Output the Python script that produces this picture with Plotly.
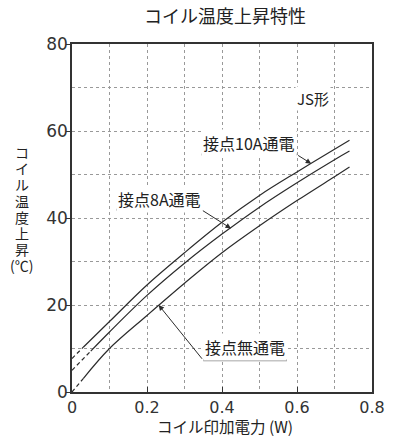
import plotly.graph_objects as go

# coil power (W) and temperature rise (deg C)
power = [0, 0.03, 0.05, 0.1, 0.2, 0.3, 0.4, 0.5, 0.6, 0.7, 0.74]
rise_10a = [7.7, 10.3, None, 16.2, 24.6, 32.0, 39.0, 45.2, 50.6, 55.8, 57.9]
rise_8a = [5.0, None, 9.4, 13.8, 22.2, 29.6, 36.3, 42.5, 48.1, 53.4, 55.4]
rise_none = [0.0, 3.1, None, 10.0, 17.6, 25.0, 32.0, 38.2, 44.0, 49.5, 51.7]

# where each curve turns from dashed to solid
dash_end = {"10A": 0.03, "8A": 0.05, "none": 0.03}

x_ticks = [0, 0.2, 0.4, 0.6, 0.8]
x_tick_text = ["0", "0.2", "0.4", "0.6", "0.8"]
y_ticks = [0, 20, 40, 60, 80]
y_title_chars = ["コ", "イ", "ル", "温", "度", "上", "昇", "(℃)"]

jp_font = "Noto Sans CJK JP"
line_color = "#2b2b2b"
text_color = "#222"

fig = go.Figure()


def add_curve(name, ys, x_break):
    pts = [(x, y) for x, y in zip(power, ys) if y is not None]
    dashed = [p for p in pts if p[0] <= x_break]
    solid = [p for p in pts if p[0] >= x_break]
    fig.add_trace(go.Scatter(x=[p[0] for p in dashed], y=[p[1] for p in dashed],
                             mode="lines", line=dict(color=line_color, width=1.2, dash="4px,3px"),
                             showlegend=False, hoverinfo="skip"))
    fig.add_trace(go.Scatter(x=[p[0] for p in solid], y=[p[1] for p in solid],
                             mode="lines", name=name, line=dict(color=line_color, width=1.2, shape="spline"),
                             showlegend=False))


add_curve("接点10A通電", rise_10a, dash_end["10A"])
add_curve("接点8A通電", rise_8a, dash_end["8A"])
add_curve("接点無通電", rise_none, dash_end["none"])

# labels: text, text position, underline span, leader end, arrow tip
labels = [
    ("接点10A通電", (0.472, 57.3), (0.345, 0.599, 54.6), (0.638, 52.5)),
    ("接点8A通電", (0.234, 44.3), (0.118, 0.345, 41.9), (0.424, 37.6)),
    ("接点無通電", (0.462, 10.4), (0.573, 0.35, 7.3), (0.231, 20.0)),
]

for text, (tx, ty), (u0, u1, uy), (ax_, ay_) in labels:
    fig.add_annotation(x=tx, y=ty, text=text, showarrow=False, bgcolor="white",
                       font=dict(family=jp_font, size=16, color=text_color))
    fig.add_shape(type="line", x0=u0, x1=u1, y0=uy, y1=uy,
                  line=dict(color="#888", width=2))
    fig.add_annotation(x=ax_, y=ay_, ax=u1, ay=uy, axref="x", ayref="y", text="",
                       showarrow=True, arrowhead=2, arrowsize=1.1, arrowwidth=1,
                       arrowcolor=line_color, standoff=0)

fig.add_annotation(x=0.642, y=67.4, text="JS形", showarrow=False, bgcolor="white",
                   font=dict(family=jp_font, size=15, color=text_color))

# vertical y-axis title, one glyph per row
for i, ch in enumerate(y_title_chars):
    fig.add_annotation(xref="paper", yref="paper", x=-0.168, y=0.689 - i * 0.0463,
                       xanchor="center", yanchor="middle", text=ch, showarrow=False,
                       font=dict(family=jp_font, size=14, color=text_color))

fig.add_annotation(xref="paper", yref="paper", x=0.51, y=-0.099, yanchor="middle",
                   text="コイル印加電力 (W)", showarrow=False,
                   font=dict(family=jp_font, size=15.5, color=text_color))

fig.update_layout(
    width=397, height=437,
    margin=dict(l=72, r=20, t=44, b=45),
    plot_bgcolor="white", paper_bgcolor="white",
    title=dict(text="コイル温度上昇特性", x=0.51, xref="paper", y=0.961, yanchor="middle",
               font=dict(family=jp_font, size=18, color=text_color)),
    xaxis=dict(range=[0, 0.8], tickvals=x_ticks, ticktext=x_tick_text,
               ticks="inside", ticklen=5, tickcolor="#333",
               showgrid=True, gridcolor="#999", griddash="dot", gridwidth=1,
               minor=dict(dtick=0.1, showgrid=True, gridcolor="#999", griddash="dot", ticks=""),
               showline=True, mirror=True, linecolor="#333", linewidth=1.5, zeroline=False,
               tickfont=dict(family="DejaVu Sans", size=16, color="#333")),
    yaxis=dict(range=[0, 80], tickvals=y_ticks,
               ticks="outside", ticklen=4, tickcolor="#333", ticklabelstandoff=-5,
               showgrid=True, gridcolor="#999", griddash="dot", gridwidth=1,
               minor=dict(dtick=10, showgrid=True, gridcolor="#999", griddash="dot", ticks=""),
               showline=True, mirror=True, linecolor="#333", linewidth=1.5, zeroline=False,
               tickfont=dict(family="DejaVu Sans", size=17, color="#333")),
)

# the page body has a default 8px margin; drop it so the figure fills the window
fig.write_html("out.html", config={"displayModeBar": False},
               post_script="document.body.style.margin='0px';")
